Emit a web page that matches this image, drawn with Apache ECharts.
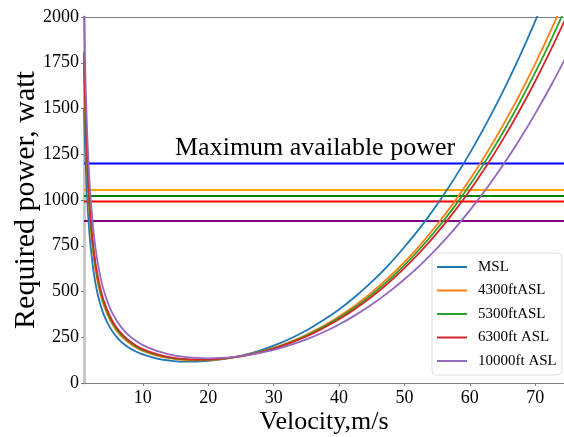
<!DOCTYPE html>
<html>
<head>
<meta charset="utf-8">
<script src="https://cdn.jsdelivr.net/npm/echarts@6/dist/echarts.min.js"></script>
<style>
  html, body { margin: 0; padding: 0; background: #fff; }
  #chart { width: 564px; height: 437px; }
</style>
</head>
<body>
<div id="chart"></div>
<script>
// Flight speed samples, m/s
const velocity = [1, 1.25, 1.5, 1.75, 2, 2.5, 3, 3.5, 4, 5, 6, 7, 8, 9, 10, 12, 14, 16, 18, 20,
                  22, 24, 26, 28, 30, 32.5, 35, 37.5, 40, 42.5, 45, 47.5, 50, 52.5, 55, 57.5,
                  60, 62.5, 65, 67.5, 70, 72.5, 75];

// Required power (W) at each speed, per altitude
const powerMSL   = [1500, 1200, 1000, 857, 750, 600, 500, 429, 375, 301, 251, 216, 190, 171, 156, 135, 123, 117, 117, 121,
                    129, 141, 158, 179, 204, 242, 287, 341, 402, 473, 553, 642, 743, 853, 976, 1110,
                    1256, 1416, 1588, 1775, 1977, 2193, 2425];
const power4300  = [1705, 1364, 1136, 974, 852, 682, 568, 487, 426, 342, 285, 245, 216, 193, 176, 151, 136, 127, 124, 125,
                    131, 140, 154, 171, 192, 225, 264, 310, 364, 425, 495, 574, 661, 758, 866, 983,
                    1112, 1252, 1404, 1568, 1745, 1935, 2139];
const power5300  = [1754, 1404, 1170, 1003, 877, 702, 585, 502, 439, 352, 293, 252, 222, 198, 180, 155, 139, 130, 126, 127,
                    132, 141, 153, 170, 190, 221, 259, 304, 356, 415, 483, 559, 644, 739, 843, 957,
                    1082, 1218, 1365, 1525, 1697, 1881, 2079];
const power6300  = [1807, 1446, 1205, 1033, 904, 723, 603, 517, 452, 362, 302, 260, 228, 204, 185, 159, 142, 132, 128, 128,
                    133, 141, 153, 168, 188, 218, 254, 298, 348, 406, 471, 545, 628, 719, 820, 931,
                    1052, 1184, 1327, 1482, 1649, 1828, 2020];
const power10000 = [2033, 1626, 1355, 1161, 1016, 813, 678, 581, 508, 407, 340, 292, 256, 229, 207, 177, 157, 144, 137, 135,
                    137, 143, 152, 165, 181, 207, 238, 276, 320, 371, 429, 494, 567, 647, 737, 835,
                    943, 1060, 1187, 1324, 1472, 1631, 1802];

// Maximum available power (W) at each altitude
const availablePower = [1200, 1055, 1022, 992, 885];

const seriesNames  = ['MSL', '4300ftASL', '5300ftASL', '6300ft ASL', '10000ft ASL'];
const curveColors  = ['#1f77b4', '#ff7f0e', '#2ca02c', '#d62728', '#9467bd'];
const limitColors  = ['#0000ff', '#ffa500', '#008000', '#ff0000', '#800080'];
const xTicks = [10, 20, 30, 40, 50, 60, 70];

const X_MIN = 1, X_MAX = 74.4;
const FONT = '"Liberation Serif", "Times New Roman", serif';

const curves = [powerMSL, power4300, power5300, power6300, power10000];

const series = [];
// Horizontal limit lines, drawn first so the curves sit on top
availablePower.forEach((p, i) => {
  series.push({
    type: 'line',
    name: 'limit' + i,
    data: [[X_MIN, p], [X_MAX, p]],
    symbol: 'none',
    lineStyle: { color: limitColors[i], width: 2 },
    silent: true,
    z: 2
  });
});
curves.forEach((vals, i) => {
  series.push({
    type: 'line',
    name: seriesNames[i],
    data: velocity.map((v, k) => [v, vals[k]]),
    symbol: 'none',
    smooth: 0.35,
    color: curveColors[i],
    lineStyle: { color: curveColors[i], width: 1.8 },
    z: 3
  });
});

const chart = echarts.init(document.getElementById('chart'), null, { renderer: 'canvas' });
chart.setOption({
  animation: false,
  backgroundColor: '#ffffff',
  grid: { left: 84, right: 0, top: 17, bottom: 54, containLabel: false, outerBoundsMode: 'none' },
  xAxis: [{
    type: 'value',
    min: X_MIN, max: X_MAX,
    name: 'Velocity,m/s',
    nameLocation: 'middle',
    nameGap: 26,
    nameMoveOverlap: false,
    nameTextStyle: { fontFamily: FONT, fontSize: 26, color: '#000' },
    axisLine: { lineStyle: { color: '#808080', width: 1.2 } },
    axisTick: { show: true, length: 3, lineStyle: { color: '#808080' }, customValues: xTicks },
    axisLabel: { fontFamily: FONT, fontSize: 18, color: '#000', margin: 6, customValues: xTicks },
    splitLine: { show: false }
  }, {
    type: 'value',
    position: 'top',
    min: X_MIN, max: X_MAX,
    axisLine: { show: true, lineStyle: { color: '#808080', width: 1.2 } },
    axisTick: { show: false },
    axisLabel: { show: false },
    splitLine: { show: false }
  }],
  yAxis: {
    type: 'value',
    min: 0, max: 2000, interval: 250,
    name: 'Required power, watt',
    nameLocation: 'middle',
    nameGap: 43,
    nameMoveOverlap: false,
    nameRotate: 90,
    nameTextStyle: { fontFamily: FONT, fontSize: 30, color: '#000' },
    axisLine: { show: true, lineStyle: { color: '#c8c8c8', width: 3 } },
    axisTick: { show: true, length: 3, lineStyle: { color: '#808080' } },
    axisLabel: { fontFamily: FONT, fontSize: 18, color: '#000', margin: 5, formatter: v => String(v) },
    splitLine: { show: false }
  },
  legend: {
    data: seriesNames,
    orient: 'vertical',
    left: 432, top: 253,
    padding: [6, 5, 6, 5],
    itemGap: 7.5,
    itemWidth: 30, itemHeight: 2,
    icon: 'rect',
    backgroundColor: '#ffffff',
    borderColor: '#dddddd', borderWidth: 1, borderRadius: 4,
    textStyle: { fontFamily: FONT, fontSize: 15, color: '#000', lineHeight: 16, padding: [0, 0, 0, 6] }
  },
  graphic: [{
    type: 'text',
    left: 175, top: 135,
    style: { text: 'Maximum available power', font: '26px ' + FONT, fill: '#000' },
    z: 10
  }],
  series: series
});
</script>
</body>
</html>
